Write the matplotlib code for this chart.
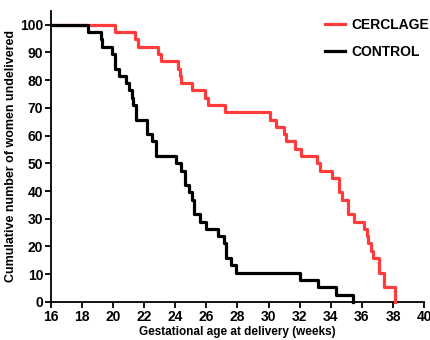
import matplotlib
matplotlib.use("Agg")
import matplotlib.pyplot as plt

# step curves (week of drop, % undelivered after drop)
cerclage_weeks = [16, 20.1, 21.4, 21.6, 22.9, 23.1, 24.2, 24.3, 24.4, 25.1, 25.9,
                  26.1, 27.2, 30.1, 30.45, 31.0, 31.1, 31.7, 32.1, 33.1, 33.3,
                  34.1, 34.5, 34.75, 35.1, 35.5, 36.15, 36.3, 36.4, 36.6, 36.7,
                  37.1, 37.45, 38.1]
cerclage_pct = [100, 97.4, 94.7, 92.1, 89.5, 86.8, 84.2, 81.6, 78.9, 76.3, 73.7,
                71.1, 68.4, 65.8, 63.2, 60.5, 57.9, 55.3, 52.6, 50.0, 47.4,
                44.7, 39.5, 36.8, 31.6, 28.9, 26.3, 23.7, 21.1, 18.4, 15.8,
                10.5, 5.3, 0]

control_weeks = [16, 18.4, 19.2, 19.3, 19.95, 20.15, 20.35, 20.8, 21.0, 21.2,
                 21.3, 21.45, 22.2, 22.5, 22.75, 24.05, 24.35, 24.6, 24.9, 25.1,
                 25.2, 25.6, 26.0, 26.75, 27.15, 27.25, 27.6, 27.9, 32.05, 33.2,
                 34.35, 35.45]
control_pct = [100, 97.4, 94.7, 92.1, 89.5, 84.2, 81.6, 78.9, 76.3, 73.7,
               71.1, 65.8, 60.5, 57.9, 52.6, 50.0, 47.4, 42.1, 39.5, 36.8,
               31.6, 28.9, 26.3, 23.7, 21.1, 15.8, 13.2, 10.5, 7.9, 5.3,
               2.6, 0]

x_ticks = list(range(16, 41, 2))
y_ticks = list(range(0, 101, 10))

plt.rcParams["font.family"] = ["Liberation Sans", "DejaVu Sans"]
plt.rcParams["font.weight"] = "bold"

fig = plt.figure(figsize=(4.31, 3.40), dpi=100)
ax = fig.add_axes([0.118, 0.112, 0.866, 0.856])

ax.step(cerclage_weeks, cerclage_pct, where="post", color="#ff3b3b", lw=2.3,
        label="CERCLAGE", clip_on=False, zorder=3)
ax.step(control_weeks, control_pct, where="post", color="black", lw=2.3,
        label="CONTROL", clip_on=False, zorder=3)

ax.set_xlim(16, 40)
ax.set_ylim(0, 105)
ax.set_xticks(x_ticks)
ax.set_yticks(y_ticks)
ax.tick_params(labelsize=10, width=1.3, length=4, direction="out", pad=1.5)
for lab in ax.get_xticklabels() + ax.get_yticklabels():
    lab.set_fontweight("bold")
for side in ("top", "right"):
    ax.spines[side].set_visible(False)
for side in ("left", "bottom"):
    ax.spines[side].set_linewidth(1.3)

ax.set_xlabel("Gestational age at delivery (weeks)", fontsize=8.5,
              fontweight="bold", labelpad=2)
ax.set_ylabel("Cumulative number of women undelivered", fontsize=9,
              fontweight="bold", labelpad=2)

leg = ax.legend(loc="upper left", bbox_to_anchor=(0.72, 0.995), frameon=False,
                fontsize=10, handlelength=1.4, handletextpad=0.5,
                labelspacing=0.95, borderaxespad=0)
for t in leg.get_texts():
    t.set_fontweight("bold")

fig.savefig("out.png", dpi=100)
